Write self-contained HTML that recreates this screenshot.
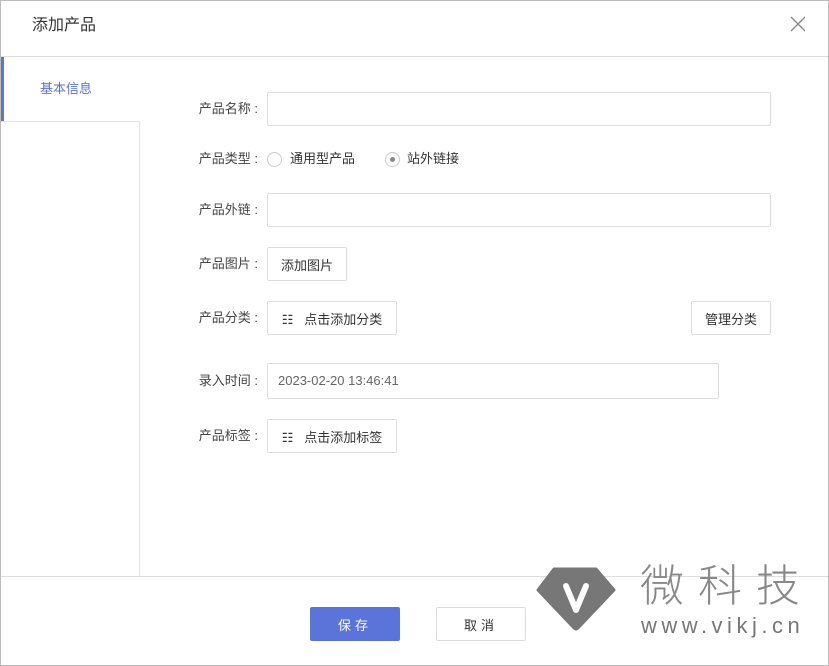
<!DOCTYPE html>
<html><head><meta charset="utf-8"><style>
*{margin:0;padding:0;box-sizing:border-box}
body{width:829px;height:666px;background:#fff;position:relative;overflow:hidden;font-family:"Liberation Sans","Noto Sans CJK SC",sans-serif;color:#333;font-size:13px}
.a{position:absolute}
.lbl{position:absolute;left:158px;width:100px;text-align:right;font-size:13px;color:#444;line-height:20px;white-space:nowrap}
.box{position:absolute;border:1px solid #ddd;background:#fff;border-radius:2px}
.btn{position:absolute;border:1px solid #ddd;background:#fff;font-size:13px;color:#333;display:flex;align-items:center;justify-content:center;border-radius:2px}
.radio{position:absolute;width:15px;height:15px;border:1px solid #ccc;border-radius:50%}
</style></head><body>
<div class="a" style="left:0;top:0;width:829px;height:666px;border:1px solid #bbb"></div>
<div class="a" style="left:32px;top:15px;font-size:16px;color:#333;line-height:22px">添加产品</div>
<svg class="a" style="left:790px;top:16px" width="16" height="16"><path d="M1 1L15 15M15 1L1 15" stroke="#888" stroke-width="1.3"/></svg>
<div class="a" style="left:1px;top:56px;width:827px;height:1px;background:#ddd"></div>
<div class="a" style="left:1px;top:57px;width:3px;height:64px;background:#5b74d6"></div>
<div class="a" style="left:40px;top:79px;font-size:13px;color:#5b74d6;line-height:20px">基本信息</div>
<div class="a" style="left:1px;top:121px;width:139px;height:1px;background:#e3e3e3"></div>
<div class="a" style="left:139px;top:121px;width:1px;height:455px;background:#e3e3e3"></div>
<div class="a" style="left:1px;top:576px;width:827px;height:1px;background:#ddd"></div>

<div class="lbl" style="top:99px">产品名称 :</div>
<div class="box" style="left:267px;top:92px;width:504px;height:34px"></div>
<div class="lbl" style="top:149px">产品类型 :</div>
<div class="radio" style="left:267px;top:152px"></div>
<div class="a" style="left:290px;top:149px;line-height:20px">通用型产品</div>
<div class="radio" style="left:385px;top:152px"><div class="a" style="left:4px;top:4px;width:5px;height:5px;border-radius:50%;background:#888"></div></div>
<div class="a" style="left:407px;top:149px;line-height:20px">站外链接</div>
<div class="lbl" style="top:200px">产品外链 :</div>
<div class="box" style="left:267px;top:193px;width:504px;height:34px"></div>
<div class="lbl" style="top:254px">产品图片 :</div>
<div class="btn" style="left:267px;top:247px;width:80px;height:34px">添加图片</div>
<div class="lbl" style="top:308px">产品分类 :</div>
<div class="btn" style="left:267px;top:301px;width:130px;height:34px">☷&nbsp;&nbsp;&nbsp;点击添加分类</div>
<div class="btn" style="left:691px;top:301px;width:80px;height:34px">管理分类</div>
<div class="lbl" style="top:371px">录入时间 :</div>
<div class="box" style="left:267px;top:363px;width:452px;height:36px"><div class="a" style="left:10px;top:8px;color:#666;line-height:18px">2023-02-20 13:46:41</div></div>
<div class="lbl" style="top:426px">产品标签 :</div>
<div class="btn" style="left:267px;top:419px;width:130px;height:34px">☷&nbsp;&nbsp;&nbsp;点击添加标签</div>

<div class="btn" style="left:310px;top:607px;width:90px;height:34px;background:#5b74d9;border-color:#5b74d9;color:#fff;letter-spacing:4px">保存</div>
<div class="btn" style="left:436px;top:607px;width:90px;height:34px;letter-spacing:4px">取消</div>

<svg class="a" style="left:536px;top:566px" width="80" height="66" viewBox="0 0 80 66">
<path d="M18 3 H60 L78 24 L42 62 Q40 64 38 62 L2 24 Z" fill="#777" stroke="#777" stroke-width="3" stroke-linejoin="round"/>
<path d="M30 20 L40 44 L50 20" fill="none" stroke="#fff" stroke-width="6" stroke-linecap="round" stroke-linejoin="round"/>
</svg>
<div class="a" style="left:640px;top:562px;font-size:44px;color:#888;letter-spacing:14px;line-height:50px;font-weight:300">微科技</div>
<div class="a" style="left:641px;top:614px;font-size:22px;color:#777;letter-spacing:4.5px;line-height:24px">www.vikj.cn</div>
</body></html>
